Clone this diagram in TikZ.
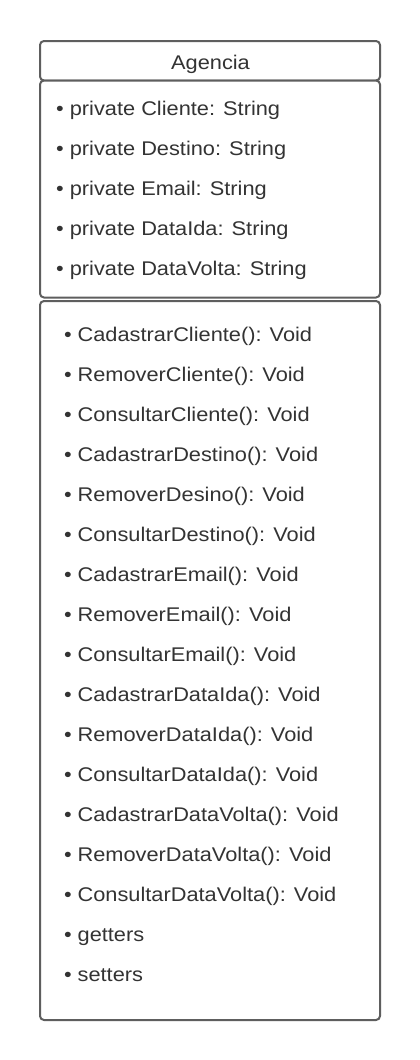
\documentclass[tikz,border=0pt]{standalone}
\usepackage{fontspec}
\setmainfont[FakeStretch=1.1]{Liberation Sans}
\definecolor{txt}{HTML}{333333}
\definecolor{edge}{HTML}{5E5E5E}
\tikzset{
  umlbox/.style={draw=edge, line width=2pt, rounded corners=4pt, fill=white},
  item/.style={anchor=base west, inner sep=0pt, text=txt, font=\fontsize{19.8pt}{24pt}\selectfont},
  title/.style={anchor=base, inner sep=0pt, text=txt, font=\fontsize{19.8pt}{24pt}\selectfont}
}
\begin{document}
\begin{tikzpicture}[x=1pt,y=-1pt]
\useasboundingbox (0,0) rectangle (420,1060);
\fill[white] (0,0) rectangle (420,1060);
\draw[umlbox] (40,41) rectangle (380,80.5);
\draw[umlbox] (40,80.5) rectangle (380,297.5);
\draw[umlbox] (40,301) rectangle (380,1020);
\node[title] (title) at (210.5,69.6) {Agencia};
\foreach \t [count=\i] in {private Cliente: String, private Destino: String, private Email: String, private DataIda: String, private DataVolta: String}{
  \node[item] (a\i) at (56,75.7+40*\i) {• \t};
}
\foreach \t [count=\i] in {CadastrarCliente(): Void, RemoverCliente(): Void, ConsultarCliente(): Void, CadastrarDestino(): Void, RemoverDesino(): Void, ConsultarDestino(): Void, CadastrarEmail(): Void, RemoverEmail(): Void, ConsultarEmail(): Void, CadastrarDataIda(): Void, RemoverDataIda(): Void, ConsultarDataIda(): Void, CadastrarDataVolta(): Void, RemoverDataVolta(): Void, ConsultarDataVolta(): Void, getters, setters}{
  \node[item] (m\i) at (63.8,301.7+40*\i) {• \t};
}
\end{tikzpicture}
\end{document}
